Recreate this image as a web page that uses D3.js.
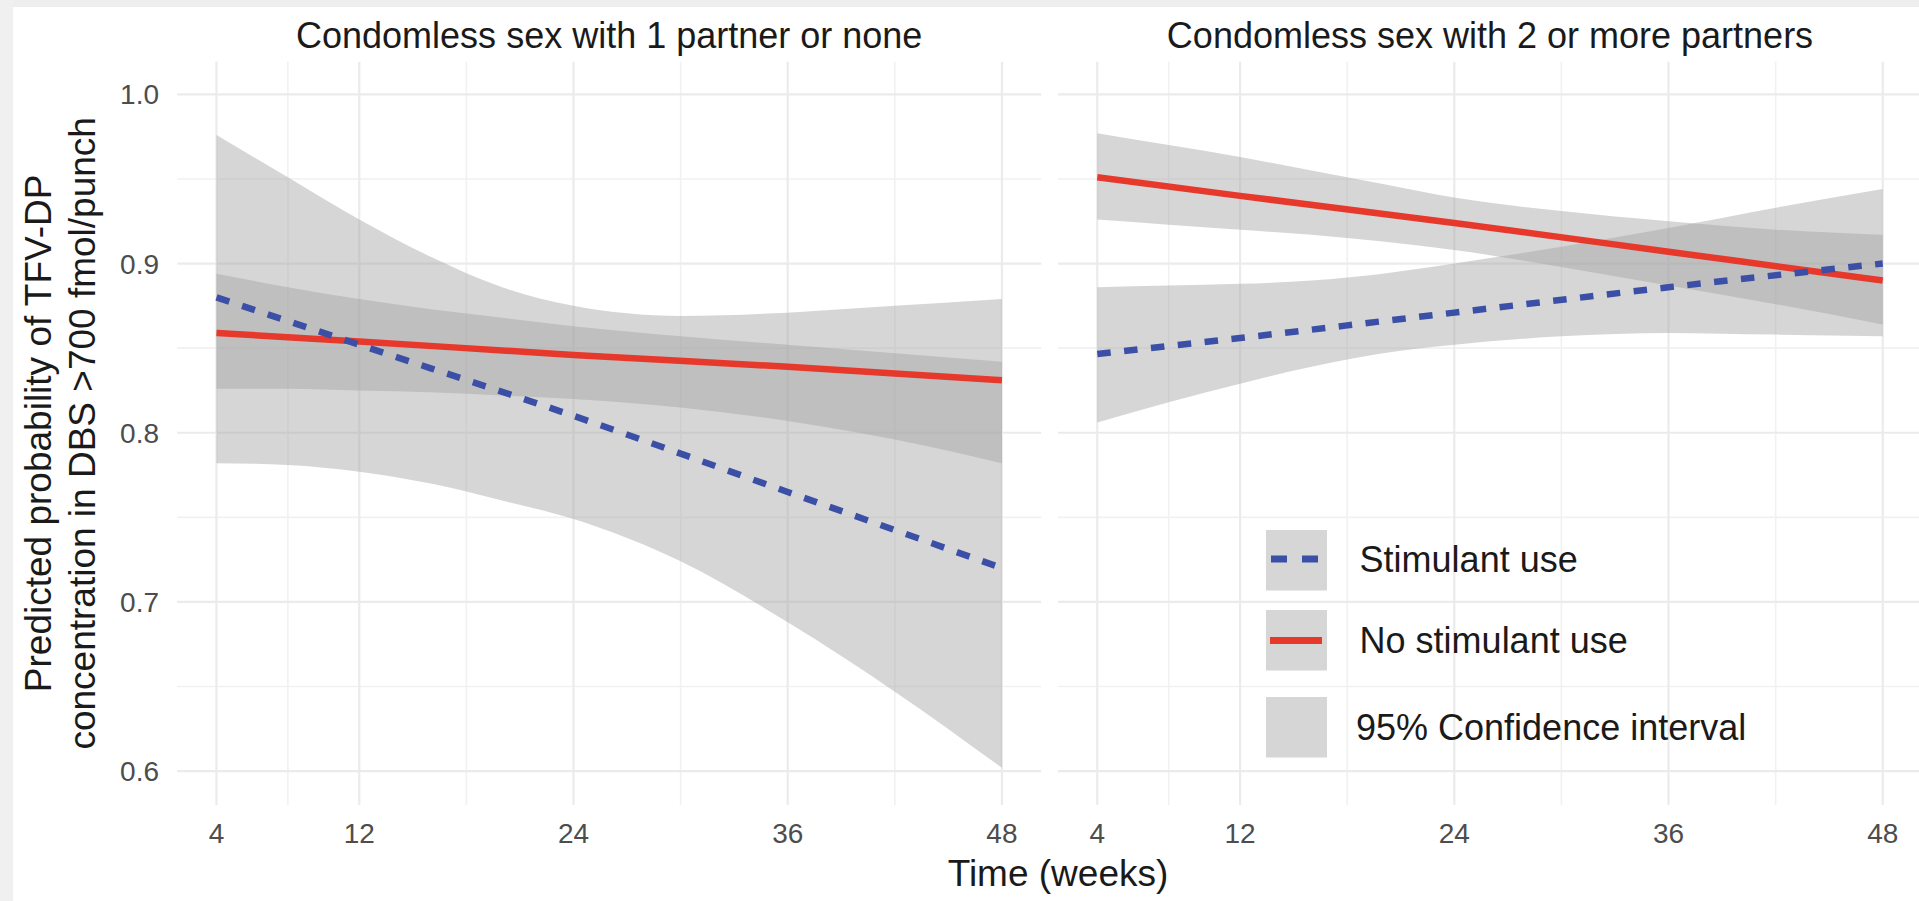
<!DOCTYPE html>
<html>
<head>
<meta charset="utf-8">
<script src="https://cdn.jsdelivr.net/npm/d3@7"></script>
<style>
  html, body { margin: 0; padding: 0; background: #ffffff; }
  svg { display: block; font-family: "Liberation Sans", Arial, Helvetica, sans-serif; }
</style>
</head>
<body>
<svg id="chart" width="1919" height="901"></svg>
<script>
// ---------------- data ----------------
const panelTitles = ["Condomless sex with 1 partner or none", "Condomless sex with 2 or more partners"];
const xTicks = [4, 12, 24, 36, 48];
const xMinor = [8, 18, 30, 42];
const yTicks = [0.6, 0.7, 0.8, 0.9, 1.0];
const yMinor = [0.65, 0.75, 0.85, 0.95];
const yTickLabels = ["0.6", "0.7", "0.8", "0.9", "1.0"];

const lineWeeks = [4, 12, 24, 36, 48];
const bandWeeks = [4, 8, 12, 16, 20, 24, 30, 36, 42, 48];

// Panel 1: 1 partner or none
const p1StimFit = [0.880, 0.852, 0.810, 0.765, 0.720];
const p1NoStimFit = [0.859, 0.854, 0.846, 0.839, 0.831];
const p1StimLo = [0.782, 0.781, 0.777, 0.770, 0.760, 0.749, 0.724, 0.688, 0.647, 0.602];
const p1StimHi = [0.976, 0.951, 0.926, 0.904, 0.886, 0.875, 0.869, 0.871, 0.875, 0.879];
const p1NoStimLo = [0.826, 0.826, 0.825, 0.824, 0.822, 0.820, 0.815, 0.807, 0.796, 0.782];
const p1NoStimHi = [0.894, 0.886, 0.879, 0.873, 0.868, 0.863, 0.857, 0.852, 0.847, 0.842];

// Panel 2: 2 or more partners
const p2StimFit = [0.8465, 0.856, 0.871, 0.886, 0.900];
const p2NoStimFit = [0.951, 0.940, 0.924, 0.907, 0.890];
const p2StimLo = [0.806, 0.818, 0.829, 0.839, 0.847, 0.852, 0.857, 0.859, 0.858, 0.857];
const p2StimHi = [0.886, 0.887, 0.888, 0.890, 0.894, 0.900, 0.910, 0.921, 0.933, 0.944];
const p2NoStimLo = [0.926, 0.923, 0.920, 0.917, 0.913, 0.908, 0.898, 0.887, 0.876, 0.864];
const p2NoStimHi = [0.977, 0.970, 0.963, 0.955, 0.947, 0.939, 0.931, 0.925, 0.920, 0.917];

const legendLabels = ["Stimulant use", "No stimulant use", "95% Confidence interval"];
const xTitle = "Time (weeks)";
const yTitleLines = ["Predicted probability of TFV-DP", "concentration in DBS >700 fmol/punch"];

// ---------------- style ----------------
const RED = "#e6392c";
const BLUE = "#3b4fa6";
const RIBBON = "#a1a1a1";
const RIBBON_OP = 0.44;

const svg = d3.select("#chart");

// frame of the screenshot
svg.append("rect").attr("x", 0).attr("y", 0).attr("width", 1919).attr("height", 7).attr("fill", "#eeeeee");
svg.append("rect").attr("x", 0).attr("y", 0).attr("width", 13).attr("height", 901).attr("fill", "#f0f0f0");

const yScale = d3.scaleLinear().domain([0.58, 1.0193]).range([805, 61.7]);
const panels = [
  { x: d3.scaleLinear().domain([1.8, 50.2]).range([177.2, 1041.2]), title: panelTitles[0],
    stimFit: p1StimFit, noFit: p1NoStimFit, stimLo: p1StimLo, stimHi: p1StimHi, noLo: p1NoStimLo, noHi: p1NoStimHi },
  { x: d3.scaleLinear().domain([1.8, 50.2]).range([1058, 1922]), title: panelTitles[1],
    stimFit: p2StimFit, noFit: p2NoStimFit, stimLo: p2StimLo, stimHi: p2StimHi, noLo: p2NoStimLo, noHi: p2NoStimHi }
];

panels.forEach((p, pi) => {
  const g = svg.append("g");
  const [x0, x1] = p.x.range();
  const [yb, yt] = yScale.range();
  // minor grid
  g.selectAll(".hmin").data(yMinor).join("line")
    .attr("x1", x0).attr("x2", x1).attr("y1", d => yScale(d)).attr("y2", d => yScale(d))
    .attr("stroke", "#f1f1f1").attr("stroke-width", 1.6);
  g.selectAll(".vmin").data(xMinor).join("line")
    .attr("y1", yt).attr("y2", yb).attr("x1", d => p.x(d)).attr("x2", d => p.x(d))
    .attr("stroke", "#f1f1f1").attr("stroke-width", 1.6);
  // major grid
  g.selectAll(".hmaj").data(yTicks).join("line")
    .attr("x1", x0).attr("x2", x1).attr("y1", d => yScale(d)).attr("y2", d => yScale(d))
    .attr("stroke", "#ebebeb").attr("stroke-width", 2.2);
  g.selectAll(".vmaj").data(xTicks).join("line")
    .attr("y1", yt).attr("y2", yb).attr("x1", d => p.x(d)).attr("x2", d => p.x(d))
    .attr("stroke", "#ebebeb").attr("stroke-width", 2.2);

  // ribbons
  const area = d3.area().curve(d3.curveMonotoneX)
    .x(d => p.x(d.w)).y0(d => yScale(d.lo)).y1(d => yScale(d.hi));
  const stimBand = bandWeeks.map((w, i) => ({ w, lo: p.stimLo[i], hi: p.stimHi[i] }));
  const noBand = bandWeeks.map((w, i) => ({ w, lo: p.noLo[i], hi: p.noHi[i] }));
  [stimBand, noBand].forEach(b => {
    g.append("path").attr("d", area(b)).attr("fill", RIBBON).attr("fill-opacity", RIBBON_OP);
  });

  // lines
  const line = d3.line().curve(d3.curveMonotoneX).x(d => p.x(d.w)).y(d => yScale(d.v));
  g.append("path").attr("d", line(lineWeeks.map((w, i) => ({ w, v: p.noFit[i] }))))
    .attr("fill", "none").attr("stroke", RED).attr("stroke-width", 6.5);
  g.append("path").attr("d", line(lineWeeks.map((w, i) => ({ w, v: p.stimFit[i] }))))
    .attr("fill", "none").attr("stroke", BLUE).attr("stroke-width", 6.5)
    .attr("stroke-dasharray", "13.5,13.5");

  // strip title
  g.append("text").attr("x", (x0 + x1) / 2).attr("y", 48)
    .attr("text-anchor", "middle").attr("font-size", 36).attr("fill", "#1a1a1a").text(p.title);

  // x tick labels
  g.selectAll(".xt").data(xTicks).join("text")
    .attr("x", d => p.x(d)).attr("y", 843).attr("text-anchor", "middle")
    .attr("font-size", 28).attr("fill", "#4d4d4d").text(d => d);
});

// y tick labels
svg.selectAll(".yt").data(yTicks).join("text")
  .attr("x", 159).attr("y", d => yScale(d)).attr("dy", "0.36em").attr("text-anchor", "end")
  .attr("font-size", 28).attr("fill", "#4d4d4d").text((d, i) => yTickLabels[i]);

// axis titles
svg.append("text").attr("x", 1058).attr("y", 886).attr("text-anchor", "middle")
  .attr("font-size", 37).attr("fill", "#1a1a1a").text(xTitle);
const yc = (yScale.range()[0] + yScale.range()[1]) / 2;
[51, 95].forEach((bx, i) => {
  svg.append("text").attr("transform", `translate(${bx},${yc}) rotate(-90)`)
    .attr("text-anchor", "middle").attr("font-size", 37).attr("fill", "#1a1a1a").text(yTitleLines[i]);
});

// legend
const lg = svg.append("g");
const keyX = 1266, keyW = 61;
const keyYs = [530, 610, 697];
keyYs.forEach((ky, i) => {
  lg.append("rect").attr("x", keyX).attr("y", ky).attr("width", keyW).attr("height", 60.5)
    .attr("fill", RIBBON).attr("fill-opacity", RIBBON_OP);
});
lg.append("line").attr("x1", keyX + 5).attr("x2", keyX + keyW - 5)
  .attr("y1", keyYs[0] + 29).attr("y2", keyYs[0] + 29)
  .attr("stroke", BLUE).attr("stroke-width", 7).attr("stroke-dasharray", "16,15");
lg.append("line").attr("x1", keyX + 4).attr("x2", keyX + keyW - 5)
  .attr("y1", keyYs[1] + 30.5).attr("y2", keyYs[1] + 30.5)
  .attr("stroke", RED).attr("stroke-width", 7);
const textXs = [1359.6, 1359.6, 1356];
const textYs = [571.7, 653, 740];
legendLabels.forEach((t, i) => {
  lg.append("text").attr("x", textXs[i]).attr("y", textYs[i]).attr("font-size", 36)
    .attr("fill", "#1a1a1a").text(t);
});
</script>
</body>
</html>
